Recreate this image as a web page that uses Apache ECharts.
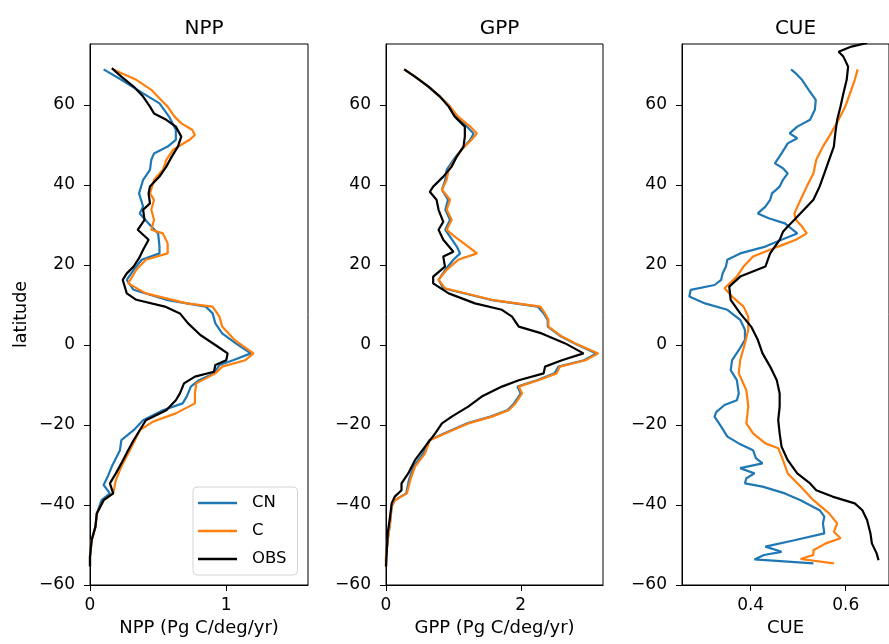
<!DOCTYPE html>
<html>
<head>
<meta charset="utf-8">
<script src="https://cdn.jsdelivr.net/npm/echarts@6/dist/echarts.min.js"></script>
<style>
  html, body { margin: 0; padding: 0; background: #fff; }
  #view1 { width: 889px; height: 644px; }
</style>
</head>
<body>
<div id="view1"></div>
<script>
var latTicks = [-60, -40, -20, 0, 20, 40, 60];

// NPP panel
var nppObsLat = [69.2, 67.1, 64.6, 62.1, 59.6, 57.9, 56.3, 54.6, 52.1, 49.6, 47.1, 44.6, 42.1, 39.6, 37.9, 35.4, 33.8, 31.3, 28.8, 26.3, 23.8, 21.7, 19.6, 17.9, 16.3, 12.9, 11.3, 9.6, 7.9, 5.4, 2.5, 0, -2.1, -3.8, -5, -6.7, -7.9, -9.6, -12.1, -13.8, -16.3, -18.8, -21.3, -23.8, -26.3, -29.6, -32.1, -34.6, -37.1, -38.8, -42.1, -45.4, -48.8, -52.9, -55.4];
var nppObs = [0.16, 0.23, 0.32, 0.39, 0.44, 0.47, 0.56, 0.63, 0.67, 0.645, 0.60, 0.56, 0.51, 0.44, 0.43, 0.44, 0.39, 0.40, 0.35, 0.43, 0.39, 0.36, 0.32, 0.27, 0.24, 0.27, 0.34, 0.55, 0.66, 0.72, 0.81, 0.92, 1.01, 1.0, 0.92, 0.91, 0.77, 0.69, 0.66, 0.63, 0.56, 0.41, 0.365, 0.32, 0.28, 0.23, 0.19, 0.146, 0.17, 0.10, 0.05, 0.04, 0.012, 0, 0];
var nppCnLat = [68.9, 66.3, 62.9, 60.4, 57.1, 53.8, 51.3, 49.6, 47.9, 46.3, 43.8, 41.3, 37.9, 34.6, 32.9, 30.4, 27.9, 24.6, 22.9, 21.3, 18.8, 16.3, 13.8, 11.3, 9.6, 7.9, 5.4, 2.9, 0.4, -2.1, -3.8, -5, -7.1, -8.8, -10.4, -12.9, -14.6, -16.3, -18.8, -21.3, -23.8, -26.3, -30.4, -32.9, -35, -37.1, -38.8, -42.1, -45.4, -48.8, -52.9, -55.4];
var nppCn = [0.10, 0.23, 0.39, 0.51, 0.58, 0.63, 0.63, 0.57, 0.47, 0.45, 0.44, 0.39, 0.36, 0.39, 0.365, 0.43, 0.50, 0.51, 0.51, 0.38, 0.32, 0.27, 0.32, 0.56, 0.85, 0.90, 0.92, 0.97, 1.07, 1.18, 1.05, 0.95, 0.91, 0.80, 0.74, 0.71, 0.68, 0.535, 0.39, 0.32, 0.23, 0.22, 0.16, 0.13, 0.10, 0.146, 0.085, 0.05, 0.04, 0.012, 0, 0];
var nppCLat = [68.9, 66.3, 63.8, 61.3, 59.6, 57.1, 55.4, 53.8, 52.5, 51.3, 48.8, 46.3, 43.8, 41.3, 37.9, 36.3, 33.8, 31.3, 28.8, 27.9, 25.4, 22.9, 21.3, 18.8, 15.4, 12.9, 10.4, 9.6, 7.1, 4.6, 1.3, -2.1, -3.8, -5.4, -7.1, -9.6, -12.1, -14.6, -17.1, -19.2, -21.3, -23.8, -27.1, -30.4, -33.8, -37.1, -38.8, -42.1, -45.4, -48.8, -52.9, -55.4];
var nppC = [0.17, 0.34, 0.45, 0.52, 0.57, 0.62, 0.67, 0.75, 0.77, 0.73, 0.61, 0.56, 0.535, 0.47, 0.44, 0.47, 0.45, 0.47, 0.45, 0.535, 0.57, 0.57, 0.41, 0.34, 0.28, 0.41, 0.71, 0.90, 0.95, 0.97, 1.06, 1.20, 1.14, 0.97, 0.92, 0.78, 0.77, 0.77, 0.63, 0.46, 0.365, 0.33, 0.28, 0.23, 0.19, 0.17, 0.10, 0.05, 0.04, 0.012, 0, 0];

// GPP panel
var gppObsLat = [68.9, 67.1, 64.6, 62.1, 59.6, 57.1, 54.6, 52.1, 49.6, 47.1, 44.6, 42.1, 39.6, 38.3, 36.3, 33.8, 30.8, 28.8, 26.3, 23.3, 22.1, 19.6, 17.1, 15.4, 12.9, 10.4, 8.8, 7.1, 4.6, 2.9, 0.4, -2.1, -3.8, -5.4, -7.1, -8.8, -10.4, -12.9, -15.4, -17.9, -19.6, -22.1, -25.4, -28.8, -32.1, -34.6, -36.3, -37.9, -39.6, -42.9, -47.1, -52.1, -55.4];
var gppObs = [0.27, 0.43, 0.63, 0.80, 0.93, 1.02, 1.17, 1.17, 1.15, 1.05, 0.975, 0.85, 0.70, 0.65, 0.75, 0.78, 0.85, 0.78, 0.85, 1.0, 0.85, 0.875, 0.70, 0.70, 0.93, 1.32, 1.72, 1.87, 1.97, 2.31, 2.66, 2.93, 2.61, 2.36, 2.34, 1.97, 1.72, 1.42, 1.22, 0.975, 0.83, 0.73, 0.58, 0.43, 0.33, 0.23, 0.23, 0.13, 0.084, 0.06, 0.025, 0.01, 0];
var gppLat = [68.9, 67.1, 64.6, 62.1, 59.6, 57.1, 54.6, 52.9, 51.3, 48.8, 46.3, 43.8, 41.3, 38.8, 36.3, 33.8, 31.3, 28.8, 27.1, 24.6, 22.9, 21.3, 18.8, 16.3, 14.2, 11.3, 9.6, 7.9, 6.3, 4.6, 2.1, 0.4, -2.1, -3.8, -5.4, -7.1, -8.8, -10.4, -12.1, -14.6, -16.3, -17.9, -19.6, -22.1, -23.8, -27.1, -30.4, -33.8, -37.1, -38.8, -40.4, -44.6, -48.8, -53, -55.4];
var gppCn = [0.27, 0.43, 0.63, 0.80, 0.95, 1.05, 1.2, 1.3, 1.25, 1.12, 1.0, 0.9, 0.88, 0.83, 0.92, 0.88, 0.95, 0.88, 0.95, 1.05, 1.1, 1.0, 0.88, 0.78, 0.85, 1.55, 2.25, 2.34, 2.4, 2.4, 2.6, 2.8, 3.12, 2.94, 2.56, 2.5, 2.24, 1.95, 2.0, 1.9, 1.8, 1.55, 1.2, 0.86, 0.64, 0.55, 0.41, 0.34, 0.3, 0.13, 0.084, 0.06, 0.025, 0, 0];
var gppC = [0.27, 0.43, 0.63, 0.80, 0.95, 1.07, 1.25, 1.35, 1.27, 1.12, 1.02, 0.93, 0.90, 0.83, 0.95, 0.90, 0.975, 0.90, 1.02, 1.22, 1.35, 1.07, 0.90, 0.78, 0.875, 1.57, 2.29, 2.36, 2.41, 2.41, 2.61, 2.81, 3.15, 2.96, 2.58, 2.53, 2.26, 1.97, 2.02, 1.92, 1.82, 1.57, 1.22, 0.875, 0.65, 0.58, 0.43, 0.36, 0.31, 0.13, 0.084, 0.06, 0.025, 0, 0];

// CUE panel
var cueCnLat = [68.9, 67.9, 66.3, 63.8, 61.3, 58.8, 56.3, 54.6, 52.9, 51.7, 50.4, 47.9, 45.4, 44.2, 42.9, 41.3, 39.6, 37.9, 36.3, 34.6, 32.9, 31.7, 30.4, 27.9, 26.3, 24.6, 22.9, 21.3, 19.6, 17.9, 16.3, 15, 13.8, 12.1, 10.4, 8.8, 6.3, 3.8, 1.3, -1.3, -3.8, -6.3, -8.8, -12.1, -13.8, -15, -16.7, -17.9, -20.4, -22.9, -24.6, -26.3, -28.3, -29.6, -30.8, -32.1, -33.3, -34.6, -35.4, -37.1, -38.8, -41.3, -42.9, -44.6, -47.1, -48.8, -50.4, -51.7, -52.5, -53.6, -54.6];
var cueCn = [0.485, 0.495, 0.508, 0.522, 0.537, 0.535, 0.525, 0.498, 0.482, 0.498, 0.478, 0.465, 0.451, 0.468, 0.478, 0.468, 0.461, 0.445, 0.441, 0.431, 0.415, 0.438, 0.472, 0.498, 0.465, 0.431, 0.378, 0.351, 0.348, 0.341, 0.338, 0.324, 0.274, 0.271, 0.304, 0.351, 0.378, 0.388, 0.388, 0.375, 0.361, 0.358, 0.371, 0.375, 0.371, 0.345, 0.328, 0.324, 0.338, 0.351, 0.375, 0.405, 0.411, 0.425, 0.378, 0.408, 0.391, 0.388, 0.425, 0.472, 0.505, 0.545, 0.555, 0.552, 0.555, 0.492, 0.431, 0.465, 0.428, 0.408, 0.532];
var cueCLat = [68.9, 66.3, 62.9, 59.6, 56.3, 52.9, 49.6, 46.3, 42.9, 39.6, 36.3, 32.9, 31.3, 29.6, 27.9, 26.3, 24.6, 22.1, 19.6, 17.1, 14.2, 12.1, 9.6, 7.1, 3.8, 0.4, -3.8, -7.1, -11.3, -15.4, -19.6, -22.1, -24.6, -25.8, -28.8, -32.1, -35.4, -38.8, -42.1, -44.6, -46.7, -48.3, -49.6, -51.3, -52.5, -53.5, -54.6];
var cueC = [0.625, 0.619, 0.609, 0.599, 0.585, 0.569, 0.552, 0.538, 0.532, 0.518, 0.505, 0.492, 0.495, 0.508, 0.518, 0.495, 0.458, 0.405, 0.385, 0.371, 0.345, 0.361, 0.385, 0.395, 0.395, 0.388, 0.378, 0.375, 0.391, 0.395, 0.391, 0.405, 0.431, 0.458, 0.468, 0.478, 0.505, 0.532, 0.565, 0.582, 0.575, 0.589, 0.558, 0.532, 0.532, 0.505, 0.575];
var cueObsLat = [75.5, 74.6, 73.3, 72.1, 69.6, 66.3, 62.9, 59.6, 56.3, 52.9, 49.6, 46.3, 42.9, 39.6, 36.3, 33.8, 31.3, 29.6, 28.3, 26.3, 22.9, 19.6, 17.1, 14.6, 11.3, 7.9, 4.6, 1.3, -2.1, -5.4, -8.8, -12.1, -15.4, -18.8, -22.1, -25.4, -28.8, -32.1, -34.6, -36.3, -37.9, -39.6, -41.3, -43.8, -47.1, -49.6, -52.1, -53.8];
var cueObs = [0.645, 0.612, 0.585, 0.595, 0.605, 0.602, 0.595, 0.589, 0.582, 0.578, 0.575, 0.565, 0.555, 0.545, 0.532, 0.512, 0.492, 0.478, 0.468, 0.461, 0.441, 0.431, 0.378, 0.355, 0.358, 0.378, 0.401, 0.415, 0.425, 0.441, 0.455, 0.461, 0.461, 0.458, 0.461, 0.465, 0.478, 0.498, 0.525, 0.538, 0.572, 0.619, 0.635, 0.645, 0.652, 0.655, 0.665, 0.669];

var font = 'DejaVu Sans';

function pairs(vals, lats) {
  return vals.map(function (v, i) { return [v, lats[i]]; });
}

function line(name, color, idx, vals, lats) {
  return {
    name: name,
    type: 'line',
    xAxisIndex: idx,
    yAxisIndex: idx,
    symbol: 'none',
    color: color,
    lineStyle: { width: 2.2, color: color },
    data: pairs(vals, lats)
  };
}

function xAxis(idx, min, max, ticks, name, digits) {
  return {
    type: 'value',
    gridIndex: idx,
    min: min,
    max: max,
    name: name,
    nameLocation: 'middle',
    nameGap: 33,
    nameTextStyle: { fontFamily: font, fontSize: 18, color: '#000' },
    axisLine: { show: true, onZero: false, lineStyle: { color: '#000', width: 1 } },
    axisTick: { show: true, length: 6, customValues: ticks, lineStyle: { color: '#000' } },
    axisLabel: {
      customValues: ticks, margin: 12, fontFamily: font, fontSize: 17, color: '#000',
      formatter: function (v) { return v.toFixed(digits); }
    },
    splitLine: { show: false }
  };
}

function yAxis(idx, name) {
  return {
    type: 'value',
    gridIndex: idx,
    min: -60,
    max: 75.25,
    name: name,
    nameLocation: 'middle',
    nameRotate: 90,
    nameGap: 60,
    nameTextStyle: { fontFamily: font, fontSize: 17.5, color: '#000' },
    axisLine: { show: true, onZero: false, lineStyle: { color: '#000', width: 1 } },
    axisTick: { show: true, length: 6, customValues: latTicks, lineStyle: { color: '#000' } },
    axisLabel: {
      customValues: latTicks, margin: 15, fontFamily: font, fontSize: 17, color: '#000',
      formatter: function (v) { return String(v).replace('-', '\u2212'); }
    },
    splitLine: { show: false }
  };
}

function grid(left, width) {
  return {
    left: left, top: 44, width: width, height: 541,
    show: true, borderColor: '#000', borderWidth: 1, backgroundColor: 'transparent'
  };
}

function title(text, x) {
  return {
    text: text, left: x, top: 14, textAlign: 'center',
    textStyle: { fontFamily: font, fontSize: 20, fontWeight: 'normal', color: '#000' }
  };
}

var option = {
  animation: false,
  backgroundColor: '#fff',
  title: [title('NPP', 199), title('GPP', 494.5), title('CUE', 790.5)],
  grid: [grid(90, 218), grid(386, 217), grid(682, 217)],
  xAxis: [
    xAxis(0, 0, 1.6, [0, 1], 'NPP (Pg C/deg/yr)', 0),
    xAxis(1, 0, 3.22, [0, 2], 'GPP (Pg C/deg/yr)', 0),
    xAxis(2, 0.2556, 0.691, [0.4, 0.6], 'CUE', 1)
  ],
  yAxis: [yAxis(0, 'latitude'), yAxis(1, ''), yAxis(2, '')],
  legend: {
    data: ['CN', 'C', 'OBS'],
    orient: 'vertical',
    left: 193,
    top: 487,
    icon: 'rect',
    itemWidth: 39,
    itemHeight: 2.5,
    itemGap: 8,
    padding: [6, 11, 6, 5],
    backgroundColor: '#fff',
    borderColor: '#d4d4d4',
    borderWidth: 1,
    borderRadius: 4,
    textStyle: { fontFamily: font, fontSize: 16.5, lineHeight: 20, color: '#000', padding: [0, 0, 0, 10] }
  },
  series: [
    line('CN', '#1f77b4', 0, nppCn, nppCnLat),
    line('C', '#ff7f0e', 0, nppC, nppCLat),
    line('OBS', '#000000', 0, nppObs, nppObsLat),
    line('CN', '#1f77b4', 1, gppCn, gppLat),
    line('C', '#ff7f0e', 1, gppC, gppLat),
    line('OBS', '#000000', 1, gppObs, gppObsLat),
    line('CN', '#1f77b4', 2, cueCn, cueCnLat),
    line('C', '#ff7f0e', 2, cueC, cueCLat),
    line('OBS', '#000000', 2, cueObs, cueObsLat)
  ]
};

echarts.init(document.getElementById('view1')).setOption(option);
</script>
</body>
</html>
